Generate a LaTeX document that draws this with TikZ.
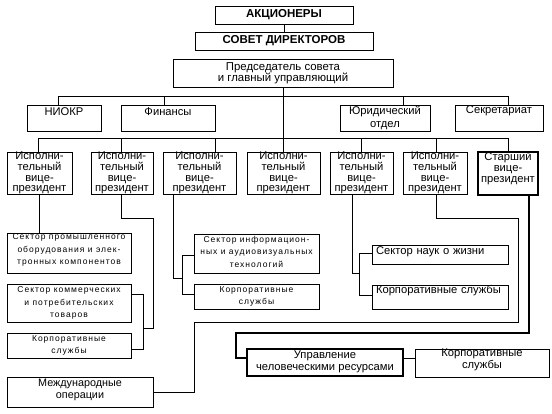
\documentclass[tikz,border=0pt]{standalone}
\usepackage{fontspec}
\setmainfont{Liberation Sans}
\newfontfamily\spfont{Liberation Sans}[LetterSpace=12]
\newcommand\rfnt{\fontsize{11.2}{10.7}\selectfont}
\newcommand\hfnt{\fontsize{11.5}{12}\selectfont\bfseries}
\newcommand\sfnt{\spfont\fontsize{8.5}{12.5}\selectfont}
\newcommand\pbox[8]{%
  \node[box,#6,minimum width={(#4-#2)*1pt},minimum height={(#5-#3)*1pt}] (#1) at ({(#2+#4)/2},{(#3+#5)/2}) {};
  \node[txt,#7] (#1-t) at (#1.center) {#8};}
\begin{document}
\begin{tikzpicture}[x=1pt,y=-1pt,
  box/.style={draw,line width=0.9pt,inner sep=0pt},
  thickbox/.style={line width=2.2pt},
  txt/.style={inner sep=0pt,align=center,font=\rfnt},
  conn/.style={line width=0.9pt},
  thickconn/.style={line width=2.2pt}]
\useasboundingbox (0,0) rectangle (552,413);
\fill[white] (0,0) rectangle (552,413);
% top
\pbox{ak}{215}{6}{353}{24}{}{font=\hfnt}{АКЦИОНЕРЫ}
\pbox{sd}{195}{32}{373}{50}{}{font=\hfnt}{СОВЕТ ДИРЕКТОРОВ}
\pbox{pr}{173}{59}{393}{87}{}{font=\fontsize{11.4}{11}\selectfont}{Председатель совета\\и главный управляющий}
% level 2
\pbox{niokr}{27}{105}{101}{131}{}{yshift=6pt}{НИОКР}
\pbox{fin}{121}{105}{215}{131}{}{yshift=6pt}{Финансы}
\pbox{yur}{340}{105}{430}{131}{}{font=\fontsize{11.2}{13}\selectfont}{Юридический\\отдел}
\pbox{sec}{455}{105}{543}{131}{}{yshift=7pt}{Секретариат}
% vice presidents
\pbox{vp1}{7}{152}{72}{194}{}{}{Исполни-\\тельный\\вице-\\президент}
\pbox{vp2}{91}{152}{153}{194}{}{}{Исполни-\\тельный\\вице-\\президент}
\pbox{vp3}{163}{152}{236}{194}{}{}{Исполни-\\тельный\\вице-\\президент}
\pbox{vp4}{247}{152}{320}{194}{}{}{Исполни-\\тельный\\вице-\\президент}
\pbox{vp5}{330}{152}{393}{194}{}{}{Исполни-\\тельный\\вице-\\президент}
\pbox{vp6}{403}{152}{467}{194}{}{}{Исполни-\\тельный\\вице-\\президент}
\pbox{svp}{478}{152}{538}{195}{thickbox}{yshift=5pt}{Старший\\вице-\\президент}
% sectors
\pbox{s1}{7}{233}{131}{273}{}{font=\sfnt,yshift=3pt}{Сектор промышленного\\оборудования и элек-\\тронных компонентов}
\pbox{s2}{7}{284}{131}{322}{}{font=\sfnt}{Сектор коммерческих\\и потребительских\\товаров}
\pbox{k1}{7}{333}{131}{358}{}{font=\sfnt}{Корпоративные\\службы}
\pbox{s3}{194}{234}{319}{273}{}{font=\sfnt,yshift=2pt}{Сектор информацион-\\ных и аудиовизуальных\\технологий}
\pbox{k2}{194}{284}{319}{309}{}{font=\sfnt}{Корпоративные\\службы}
\pbox{s4}{372}{245}{508}{264}{}{text width=128pt,align=left,yshift=3pt}{Сектор наук о жизни}
\pbox{k3}{372}{285}{508}{309}{}{text width=128pt,align=left,yshift=6pt}{Корпоративные службы}
\pbox{intl}{7}{377}{153}{407}{}{font=\fontsize{10.8}{12.7}\selectfont,yshift=2pt}{Международные\\операции}
\pbox{hr}{247}{349}{403}{376}{thickbox}{font=\fontsize{11.2}{12}\selectfont,yshift=1pt}{Управление\\человеческими ресурсами}
\pbox{k4}{415}{349}{549}{377}{}{font=\fontsize{11.2}{12}\selectfont,yshift=3pt}{Корпоративные\\службы}
% connectors
\draw[conn] (ak.south) -- (sd.north);
\draw[conn] ([xshift=-6pt]niokr.north) -- ++(0,-8) -| ([xshift=9pt]sec.north);
\draw[conn] ([xshift=-4pt]fin.north) -- ++(0,-8);
\draw[conn] ([xshift=18pt]yur.north) -- ++(0,-8);
\draw[conn] (pr.south) -- ++(0,52);
\draw[conn] ([xshift=-1.5pt]vp1.north) -- ++(0,-13) -| (svp.north);
\draw[conn] ([xshift=-1pt]vp2.north) -- ++(0,-13);
\draw[conn] ([xshift=15.5pt]vp3.north) -- ++(0,-13);
\draw[conn] (vp4.north) -- ++(0,-13);
\draw[conn] (vp5.north) -- ++(0,-13);
\draw[conn] ([xshift=1pt]vp6.north) -- ++(0,-13);
% lower connectors
\draw[conn] ([xshift=-0.5pt]vp1.south) -- ([xshift=-0.5pt]vp1.south |- s1.north);
\draw[conn] ([xshift=-1pt]vp2.south) -- ++(0,24) -- ++(32,0) -- ++(0,110) -- ++(-10,0);
\draw[conn] ([yshift=9pt]s2.east) -- ++(12,0) |- ([yshift=-3.5pt]k1.east);
\draw[conn] ([xshift=-26.5pt]vp3.south) -- ++(0,84) -- ++(10,0);
\draw[conn] ([yshift=-1.5pt]s3.west) -- ++(-11,0) |- ([yshift=2.5pt]k2.west);
\draw[conn] ([xshift=-9.5pt]vp5.south) -- ++(0,79) -- ++(8,0);
\draw[conn] ([yshift=1.5pt]s4.west) -- ++(-12,0) |- ([yshift=2pt]k3.west);
\draw[conn] ([xshift=1pt]vp6.south) -- ++(0,24) -- ++(82,0) -- ++(0,104) -| ([xshift=41pt]intl.east) -- (intl.east);
\draw[thickconn] ([xshift=21pt]svp.south) -- ++(0,137) -| ([xshift=-10pt,yshift=4.5pt]hr.west) -- ([yshift=4.5pt]hr.west);
\draw[conn] ([yshift=4.5pt]hr.east) -- ([yshift=4.5pt]hr.east -| k4.west);
\end{tikzpicture}
\end{document}
